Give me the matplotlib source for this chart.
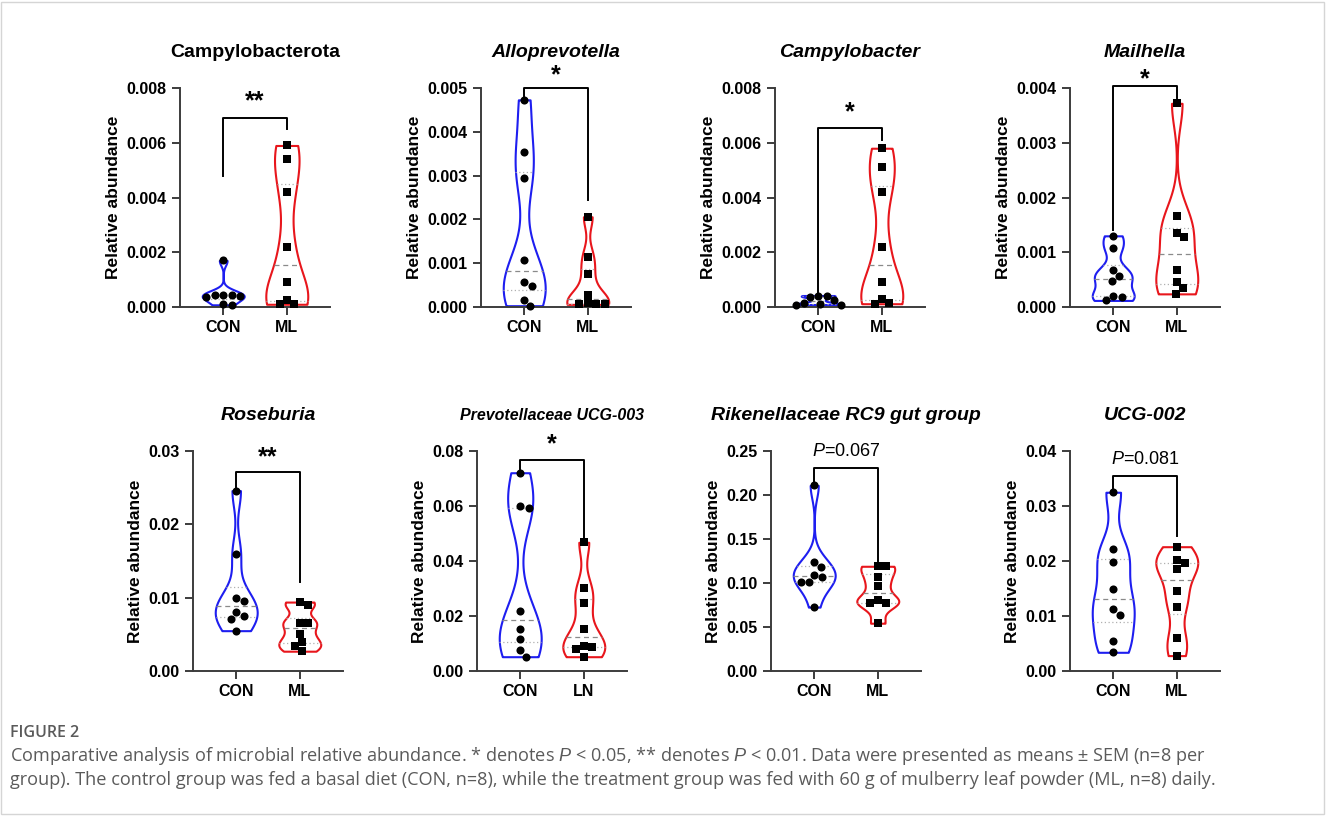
import numpy as np
import matplotlib
matplotlib.use('Agg')
import matplotlib.pyplot as plt
from matplotlib.patches import Rectangle

plt.rcParams['font.family'] = 'Liberation Sans'
plt.rcParams['mathtext.fontset'] = 'custom'
plt.rcParams['mathtext.rm'] = 'Liberation Sans'
plt.rcParams['mathtext.it'] = 'Liberation Sans:italic'
plt.rcParams['mathtext.bf'] = 'Liberation Sans:bold'

# Taxa names and group labels
taxa = ['Campylobacterota', 'Alloprevotella', 'Campylobacter', 'Mailhella',
        'Roseburia', 'Prevotellaceae UCG-003', 'Rikenellaceae RC9 gut group', 'UCG-002']
title_italic = [False, True, True, True, True, True, True, True]
group_labels = [['CON', 'ML']] * 5 + [['CON', 'LN']] + [['CON', 'ML']] * 2

# Relative abundance (n=8 per group)
con_campylobacterota = [0.0017, 0.00045, 0.00043, 0.00044, 0.00038, 0.00042, 0.0001, 0.00008]
ml_campylobacterota = [0.0059, 0.0054, 0.0042, 0.0022, 0.0009, 0.00027, 0.0001, 0.0001]
con_alloprevotella = [0.00473, 0.00355, 0.00294, 0.00108, 0.00056, 0.00047, 0.00017, 0.00003]
ml_alloprevotella = [0.00206, 0.00115, 0.00076, 0.00028, 0.00008, 0.00007, 0.00006, 0.00007]
con_campylobacter = [0.00042, 0.00038, 0.00040, 0.00027, 0.00015, 0.00009, 0.00009, 0.00012]
ml_campylobacter = [0.0058, 0.0051, 0.0042, 0.0022, 0.0009, 0.0003, 0.00015, 0.00012]
con_mailhella = [0.0013, 0.00107, 0.00067, 0.00056, 0.00048, 0.00021, 0.00018, 0.00012]
ml_mailhella = [0.00372, 0.00166, 0.00136, 0.00127, 0.00067, 0.00045, 0.00034, 0.00024]
con_roseburia = [0.0246, 0.0159, 0.0099, 0.0096, 0.0080, 0.0075, 0.0071, 0.0055]
ml_roseburia = [0.0094, 0.0090, 0.0066, 0.0066, 0.0050, 0.0039, 0.0034, 0.0027]
con_prevotellaceae = [0.0721, 0.0599, 0.0593, 0.022, 0.0152, 0.0117, 0.0075, 0.0052]
ln_prevotellaceae = [0.0468, 0.0302, 0.0247, 0.0153, 0.0089, 0.0091, 0.0079, 0.0052]
con_rikenellaceae = [0.2109, 0.1235, 0.118, 0.1068, 0.109, 0.1007, 0.101, 0.0726]
ml_rikenellaceae = [0.119, 0.119, 0.1068, 0.0961, 0.081, 0.0771, 0.0775, 0.0543]
con_ucg002 = [0.0325, 0.0221, 0.0199, 0.015, 0.0112, 0.0102, 0.0054, 0.0034]
ml_ucg002 = [0.0226, 0.0201, 0.0196, 0.0185, 0.0146, 0.0117, 0.006, 0.0028]

con_data = [con_campylobacterota, con_alloprevotella, con_campylobacter, con_mailhella,
            con_roseburia, con_prevotellaceae, con_rikenellaceae, con_ucg002]
trt_data = [ml_campylobacterota, ml_alloprevotella, ml_campylobacter, ml_mailhella,
            ml_roseburia, ln_prevotellaceae, ml_rikenellaceae, ml_ucg002]

# y axis: max, step, decimals
y_max = [0.008, 0.005, 0.008, 0.004, 0.03, 0.08, 0.25, 0.04]
y_step = [0.002, 0.001, 0.002, 0.001, 0.01, 0.02, 0.05, 0.01]
y_dec = [3, 3, 3, 3, 2, 2, 2, 2]

# significance brackets: top, left leg end, right leg end, label, label y
br_top = [0.0069, 0.005, 0.00653, 0.00403, 0.0272, 0.0767, 0.231, 0.0354]
br_left = [0.0048, 0.0048, 0.0005, 0.0014, 0.0247, 0.0727, 0.213, 0.0328]
br_right = [0.0065, 0.00244, 0.0061, 0.00382, 0.0122, 0.0472, 0.1246, 0.0246]
sig_label = ['**', '*', '*', '*', '**', '*', r'$\mathit{P}$=0.067', r'$\mathit{P}$=0.081']
sig_y = [0.0075, 0.0053, 0.0071, 0.00415, 0.0292, 0.0824, 0.25, 0.0385]

W, H = 1327, 816
# axes boxes in pixels: y-axis x position, top, bottom
ax_left = [180, 481, 775, 1070, 193, 477, 771, 1070]
ax_top = [88] * 4 + [451] * 4
ax_bot = [307] * 4 + [671] * 4
ax_w = 150
xlo, xhi = 0.32, 2.68


def kde_outline(vals, bw=0.55, n=300):
    v = np.asarray(vals, float)
    y = np.linspace(v.min(), v.max(), n)
    h = bw * v.std(ddof=1) * len(v) ** (-0.2)
    d = np.exp(-0.5 * ((y[:, None] - v[None, :]) / h) ** 2).sum(1)
    return y, d / d.max()


def swarm(vals, sx, sy, diam=8.5):
    v = np.asarray(vals, float)
    xs = np.zeros(len(v))
    placed = []
    for i in np.argsort(v)[::-1]:
        yp = v[i] * sy
        cands = [0.0]
        for (px, py) in placed:
            dy = yp - py
            if abs(dy) < diam:
                dx = np.sqrt(diam ** 2 - dy ** 2)
                cands += [px + dx, px - dx]
        cands.sort(key=abs)
        for c in cands:
            if all((c - px) ** 2 + (yp - py) ** 2 >= diam ** 2 - 1e-6 for px, py in placed):
                xs[i] = c / sx
                placed.append((c, yp))
                break
    return xs


fig = plt.figure(figsize=(W / 100, H / 100), dpi=100)
fig.patches.append(Rectangle((0.001, 0.002), 0.997, 0.996, transform=fig.transFigure,
                             fill=False, edgecolor='#d5d5d5', lw=1))

spine_c = '#3c3c3c'
colors = ['#1e1ef0', '#e8161c']
markers = ['o', 's']

for k in range(8):
    hpx = ax_bot[k] - ax_top[k]
    ax = fig.add_axes([ax_left[k] / W, (H - ax_bot[k]) / H, ax_w / W, hpx / H])
    ax.set_xlim(xlo, xhi)
    ax.set_ylim(0, y_max[k])
    sx = ax_w / (xhi - xlo)
    sy = hpx / y_max[k]

    for g, vals in enumerate([con_data[k], trt_data[k]]):
        pos = g + 1
        yy, dd = kde_outline(vals)
        half = 0.33
        ax.fill_betweenx(yy, pos - half * dd, pos + half * dd, facecolor='white',
                         edgecolor=colors[g], lw=1.5, zorder=2)
        q1, med, q3 = np.percentile(vals, [25, 50, 75])
        for q, ls, c in [(med, (0, (4, 3)), '#8a8a8a'), (q1, (0, (1, 2)), '#b0b0b0'),
                         (q3, (0, (1, 2)), '#b0b0b0')]:
            wq = np.interp(q, yy, dd) * half
            ax.plot([pos - wq, pos + wq], [q, q], ls=ls, color=c, lw=0.9, zorder=3)
        xs = swarm(vals, sx, sy)
        ax.scatter(pos + xs, vals, marker=markers[g], s=34 if g == 0 else 30,
                   color='black', zorder=4, clip_on=False, linewidths=0)

    # bracket
    ax.plot([1, 1, 2, 2], [br_left[k], br_top[k], br_top[k], br_right[k]],
            color='black', lw=1.4, clip_on=False, zorder=5)
    if sig_label[k].startswith('*'):
        ax.text(1.5, sig_y[k], sig_label[k], ha='center', va='center', fontsize=18,
                fontweight='bold', clip_on=False)
    else:
        ax.text(1.5, sig_y[k], sig_label[k], ha='center', va='center', fontsize=13,
                clip_on=False)

    ax.set_title(taxa[k], fontsize=11.5 if k == 5 else 14, fontweight='bold',
                 fontstyle='italic' if title_italic[k] else 'normal', pad=22)
    ax.set_xticks([1, 2])
    ax.set_xticklabels(group_labels[k], fontsize=11.5, fontweight='bold')
    yt = np.arange(0, y_max[k] + y_step[k] / 2, y_step[k])
    ax.set_yticks(yt)
    ax.set_yticklabels([f'{t:.{y_dec[k]}f}' for t in yt], fontsize=11.5, fontweight='bold')
    ax.set_ylabel('Relative abundance', fontsize=12.5, fontweight='bold', labelpad=4)
    for s in ['top', 'right']:
        ax.spines[s].set_visible(False)
    for s in ['left', 'bottom']:
        ax.spines[s].set_color(spine_c)
        ax.spines[s].set_linewidth(1.4)
    ax.tick_params(axis='both', colors=spine_c, width=1.4, length=6, labelcolor='black')

fig.text(10 / W, 1 - 733 / H, 'FIGURE 2', fontsize=11.5, color='#5a5a5a', va='center',
         family='Open Sans', fontweight='semibold')
cap1 = (r'Comparative analysis of microbial relative abundance. * denotes $\mathit{P}$ < 0.05, '
        r'** denotes $\mathit{P}$ < 0.01. Data were presented as means $\pm$ SEM (n=8 per')
cap2 = ('group). The control group was fed a basal diet (CON, n=8), while the treatment group '
        'was fed with 60 g of mulberry leaf powder (ML, n=8) daily.')
fig.text(10 / W, 1 - 756 / H, cap1, fontsize=13.1, color='#5a5a5a', va='center',
         family='Open Sans')
fig.text(10 / W, 1 - 780 / H, cap2, fontsize=13.1, color='#5a5a5a', va='center',
         family='Open Sans')

fig.savefig('out.png', dpi=100)
